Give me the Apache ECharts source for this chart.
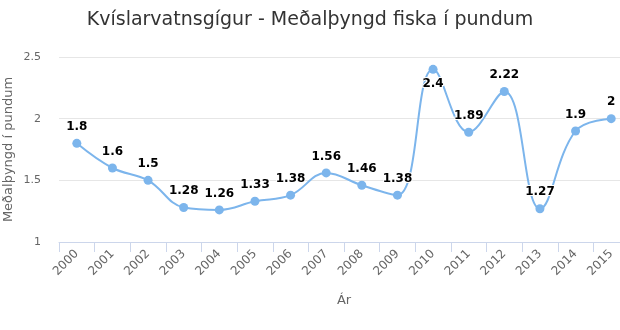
<!DOCTYPE html>
<html>
<head>
<meta charset="utf-8">
<script src="https://cdn.jsdelivr.net/npm/echarts@6/dist/echarts.min.js"></script>
<style>
  html, body { margin: 0; padding: 0; background: #fff; }
  #chart { width: 620px; height: 330px; }
</style>
</head>
<body>
<div id="chart"></div>
<script>
// Ár (years) and average fish weight in pounds
const years = ['2000','2001','2002','2003','2004','2005','2006','2007','2008','2009','2010','2011','2012','2013','2014','2015'];
const avgWeight = [1.8, 1.6, 1.5, 1.28, 1.26, 1.33, 1.38, 1.56, 1.46, 1.38, 2.4, 1.89, 2.22, 1.27, 1.9, 2];
// Years whose value label sits under the point
const labelsBelow = ['2010'];

const chart = echarts.init(document.getElementById('chart'), null, { renderer: 'canvas' });

const seriesData = avgWeight.map((v, i) => {
  const item = { value: v };
  if (labelsBelow.includes(years[i])) {
    item.label = { position: 'bottom', distance: 4 };
  }
  return item;
});

chart.setOption({
  animation: false,
  backgroundColor: '#ffffff',
  title: {
    text: 'Kvíslarvatnsgígur - Meðalþyngd fiska í pundum',
    left: 'center',
    top: 6,
    textStyle: {
      fontFamily: 'DejaVu Sans',
      fontSize: 19,
      fontWeight: 'normal',
      color: '#333333'
    }
  },
  grid: {
    left: 59, width: 570, top: 57, height: 185,
    containLabel: false,
    outerBoundsMode: 'none'
  },
  xAxis: {
    type: 'category',
    data: years,
    boundaryGap: true,
    name: 'Ár',
    nameLocation: 'middle',
    nameGap: 52,
    nameMoveOverlap: false,
    nameTextStyle: { color: '#666666', fontSize: 13, fontFamily: 'DejaVu Sans' },
    axisLine: { lineStyle: { color: '#ccd6eb', width: 1 } },
    axisTick: { show: true, length: 10, alignWithLabel: false, lineStyle: { color: '#ccd6eb' } },
    axisLabel: {
      rotate: 45,
      margin: 10,
      color: '#666666',
      fontSize: 12,
      fontFamily: 'DejaVu Sans'
    },
    splitLine: { show: false }
  },
  yAxis: {
    type: 'value',
    min: 1,
    max: 2.5,
    interval: 0.5,
    name: 'Meðalþyngd í pundum',
    nameLocation: 'middle',
    nameGap: 44,
    nameMoveOverlap: false,
    nameRotate: 90,
    nameTextStyle: { color: '#666666', fontSize: 13, fontFamily: 'DejaVu Sans' },
    axisLine: { show: false },
    axisTick: { show: false },
    axisLabel: {
      color: '#666666',
      fontSize: 11,
      fontFamily: 'DejaVu Sans',
      margin: 18
    },
    splitLine: { lineStyle: { color: '#e6e6e6', width: 1 } }
  },
  series: [{
    type: 'line',
    data: seriesData,
    smooth: 0.4,
    symbol: 'circle',
    symbolSize: 9,
    lineStyle: { color: '#7cb5ec', width: 2 },
    itemStyle: { color: '#7cb5ec' },
    label: {
      show: true,
      position: 'top',
      distance: 6,
      color: '#000000',
      fontSize: 12,
      fontWeight: 'bold',
      fontFamily: 'DejaVu Sans',
      textBorderColor: '#ffffff',
      textBorderWidth: 2
    }
  }]
});
</script>
</body>
</html>
